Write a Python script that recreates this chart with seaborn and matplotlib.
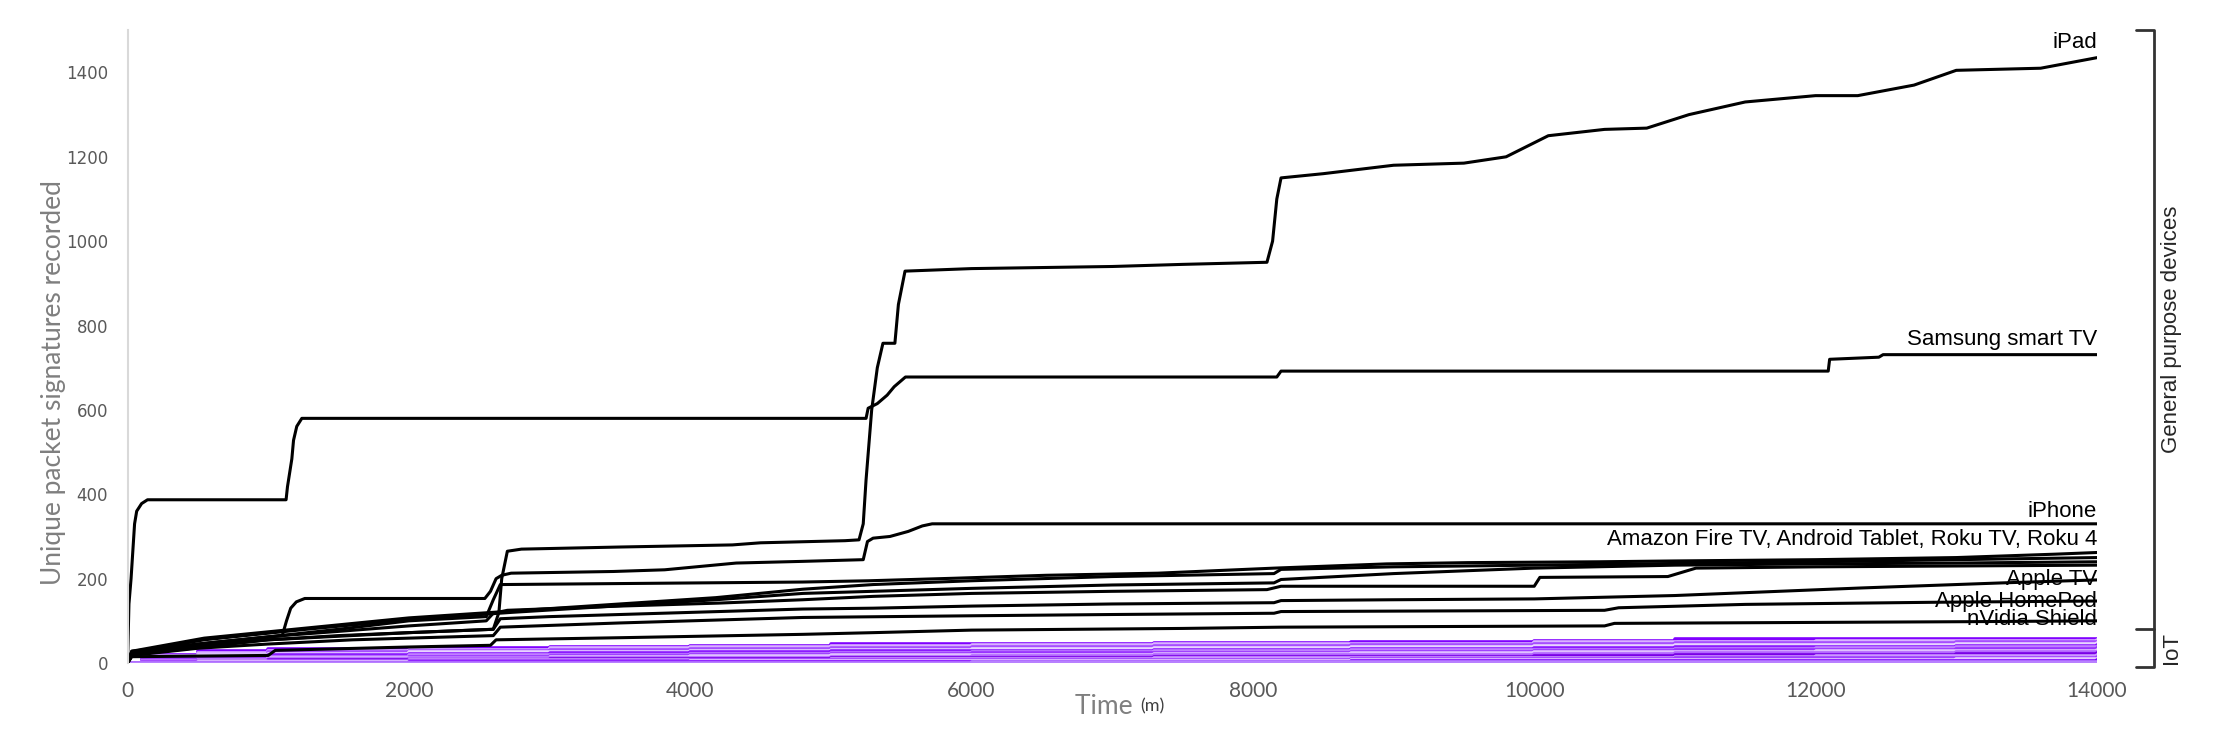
import pandas as pd
import matplotlib
matplotlib.use('Agg')
from matplotlib import pyplot as plt
from matplotlib import transforms
import seaborn as sns

# general purpose devices (black lines): time (m) / unique signatures
ipad_t = [0, 40, 500, 1000, 1500, 2000, 2600, 2640, 2660, 2700, 2800, 3500, 4300, 4500, 5100, 5200,
          5230, 5250, 5290, 5330, 5370, 5455, 5480, 5527, 6000, 7000, 7500, 8100, 8140, 8170, 8200,
          8500, 9000, 9500, 9800, 10100, 10500, 10800, 11100, 11500, 12000, 12300, 12700, 13000,
          13600, 14000]
ipad_v = [0, 22, 40, 55, 65, 72, 80, 120, 200, 265, 270, 275, 280, 285, 290, 292,
          330, 434, 600, 700, 758, 758, 850, 929, 935, 940, 945, 950, 1000, 1100, 1150,
          1160, 1180, 1185, 1200, 1250, 1265, 1268, 1300, 1330, 1345, 1345, 1370, 1405,
          1410, 1435]

samsung_t = [0, 10, 25, 50, 65, 100, 142, 1127, 1137, 1168, 1180, 1203, 1239, 5250, 5265, 5330,
             5400, 5450, 5530, 8170, 8200, 12090, 12100, 12450, 12480, 14000]
samsung_v = [0, 140, 200, 330, 360, 378, 387, 387, 418, 484, 528, 561, 580, 580, 604, 615,
             635, 655, 678, 678, 692, 692, 720, 725, 731, 731]

iphone_t = [0, 40, 500, 1100, 1130, 1160, 1200, 1260, 2540, 2580, 2620, 2660, 2727, 3454, 3818,
            4327, 4800, 5230, 5260, 5300, 5420, 5550, 5650, 5720, 14000]
iphone_v = [0, 25, 45, 65, 100, 130, 145, 153, 153, 170, 200, 208, 213, 217, 221,
            237, 241, 245, 288, 296, 300, 312, 325, 330, 330]

amazon_t = [0, 30, 500, 1000, 1500, 2000, 2550, 2600, 2650, 4800, 5270, 5880, 6530, 7325, 8155,
            8950, 9527, 10458, 11000, 12000, 13000, 13700, 14000]
amazon_v = [0, 28, 45, 62, 80, 100, 110, 150, 186, 192, 195, 201, 208, 213, 225,
            235, 238, 240, 242, 245, 250, 258, 262]

tablet_t = [0, 30, 545, 1273, 2000, 2727, 3454, 4182, 4800, 5300, 6000, 7000, 8150, 8200, 9000,
            10000, 11000, 12000, 13000, 14000]
tablet_v = [0, 28, 59, 83, 107, 123, 139, 155, 175, 186, 195, 205, 212, 222, 228,
            232, 236, 240, 245, 250]

rokutv_t = [0, 30, 545, 1273, 2000, 2727, 3454, 4182, 4800, 5300, 6000, 7000, 8150, 8200, 9000,
            10000, 11000, 12000, 13000, 14000]
rokutv_v = [0, 25, 55, 80, 103, 120, 135, 150, 165, 170, 177, 185, 190, 198, 212,
            225, 232, 235, 237, 240]

roku4_t = [0, 30, 600, 1100, 1500, 2000, 2550, 2600, 2700, 3500, 4200, 4800, 5300, 6000, 7000,
           8100, 8200, 10000, 10040, 10950, 11150, 12000, 13000, 14000]
roku4_v = [0, 22, 48, 65, 75, 88, 100, 118, 125, 135, 142, 150, 158, 165, 170,
           174, 182, 182, 203, 205, 225, 228, 230, 232]

appletv_t = [0, 30, 600, 1000, 2000, 2600, 2650, 3000, 4000, 4800, 5300, 6000, 7000, 8150, 8200,
             9000, 10000, 11000, 12330, 13330, 14000]
appletv_v = [0, 20, 40, 55, 72, 80, 105, 110, 120, 128, 130, 135, 140, 143, 148,
             150, 152, 160, 178, 190, 197]

homepod_t = [0, 30, 500, 1000, 1600, 2600, 2650, 3500, 4500, 4800, 6000, 7000, 8150, 8200, 10500,
             10600, 11500, 12836, 14000]
homepod_v = [0, 18, 35, 45, 55, 65, 85, 95, 105, 108, 112, 115, 118, 122, 125,
             131, 139, 144, 147]

shield_t = [0, 30, 1000, 1050, 2000, 2580, 2620, 3500, 4800, 5300, 6000, 7500, 8200, 10500, 10570,
            13080, 14000]
shield_v = [0, 15, 18, 30, 38, 42, 55, 60, 68, 72, 78, 82, 85, 88, 94,
            98, 100]

# IoT devices (purple lines), sampled on a shared time grid
iot_t = [0, 100, 500, 1000, 2000, 3000, 4000, 5000, 6000, 7300, 8700, 10000, 11000, 12000, 13000, 14000]
iot_01 = [0, 20, 28, 33, 36, 38, 41, 44, 45, 47, 51, 53, 56, 57, 57, 58]
iot_02 = [0, 16, 24, 29, 32, 35, 38, 40, 42, 44, 46, 49, 51, 52, 53, 55]
iot_03 = [0, 14, 20, 25, 28, 31, 33, 36, 38, 40, 43, 45, 47, 48, 49, 51]
iot_04 = [0, 12, 18, 22, 25, 27, 29, 31, 34, 36, 38, 40, 42, 43, 44, 47]
iot_05 = [0, 10, 15, 18, 21, 23, 25, 28, 29, 31, 34, 36, 38, 39, 41, 43]
iot_06 = [0, 8, 12, 15, 18, 20, 22, 24, 26, 28, 31, 32, 34, 35, 37, 39]
iot_07 = [0, 7, 10, 13, 15, 17, 19, 21, 23, 24, 26, 28, 30, 31, 33, 35]
iot_08 = [0, 5, 8, 11, 13, 15, 16, 18, 19, 21, 23, 25, 27, 28, 29, 31]
iot_09 = [0, 4, 7, 9, 11, 12, 13, 15, 16, 18, 19, 21, 23, 24, 25, 27]
iot_10 = [0, 3, 5, 7, 8, 9, 10, 12, 13, 14, 15, 17, 19, 20, 21, 23]
iot_11 = [0, 2, 4, 5, 6, 7, 8, 9, 10, 11, 12, 13, 15, 16, 17, 18]
iot_12 = [0, 2, 3, 4, 4, 5, 6, 6, 7, 8, 9, 10, 11, 12, 13, 14]
iot_13 = [0, 1, 2, 2, 3, 3, 4, 4, 5, 5, 6, 7, 8, 8, 9, 10]
iot_14 = [0, 1, 1, 1, 2, 2, 2, 3, 3, 3, 4, 4, 5, 5, 5, 6]
iot_15 = [0, 0, 1, 1, 1, 1, 1, 1, 2, 2, 2, 2, 2, 3, 3, 3]

gp_labels = ['iPad', 'Samsung smart TV', 'iPhone',
             'Amazon Fire TV, Android Tablet, Roku TV, Roku 4',
             'Apple TV', 'Apple HomePod', 'nVidia Shield']
gp_label_y = [1445, 742, 335, 268, 197, 145, 103]

gp = {
    'iPad': (ipad_t, ipad_v), 'Samsung smart TV': (samsung_t, samsung_v),
    'iPhone': (iphone_t, iphone_v), 'Amazon Fire TV': (amazon_t, amazon_v),
    'Android Tablet': (tablet_t, tablet_v), 'Roku TV': (rokutv_t, rokutv_v),
    'Roku 4': (roku4_t, roku4_v), 'Apple TV': (appletv_t, appletv_v),
    'Apple HomePod': (homepod_t, homepod_v), 'nVidia Shield': (shield_t, shield_v),
}
rows = []
for name, (t, v) in gp.items():
    for a, b in zip(t, v):
        rows.append((name, a, b))
gp_df = pd.DataFrame(rows, columns=['device', 'time', 'signatures'])

iot_lines = [iot_01, iot_02, iot_03, iot_04, iot_05, iot_06, iot_07, iot_08,
             iot_09, iot_10, iot_11, iot_12, iot_13, iot_14, iot_15]
rows = []
for i, vals in enumerate(iot_lines):
    for a, b in zip(iot_t, vals):
        rows.append(('iot%02d' % (i + 1), a, b))
iot_df = pd.DataFrame(rows, columns=['device', 'time', 'signatures'])
purples = ['#8000ff', '#d9b3ff', '#a64dff', '#e8d5ff', '#8c1aff', '#c080ff', '#9933ff',
           '#e0c2ff', '#b366ff', '#7a00e6', '#cc99ff', '#9f3fff', '#e6ccff', '#8000ff', '#b880ff']

sns.set_style('white')
plt.rcParams['font.family'] = ['Liberation Sans', 'DejaVu Sans']

fig = plt.figure(figsize=(22.22, 7.29), dpi=100)
ax = fig.add_axes([0.0574, 0.0905, 0.8863, 0.868])

sns.lineplot(data=iot_df, x='time', y='signatures', hue='device', palette=purples,
             estimator=None, linewidth=2.6, drawstyle='steps-post', legend=False, ax=ax)
sns.lineplot(data=gp_df, x='time', y='signatures', units='device', estimator=None,
             color='black', linewidth=2.2, legend=False, ax=ax)

ax.set_xlim(0, 14000)
ax.set_ylim(0, 1500)
ax.set_xticks(range(0, 14001, 2000))
ax.set_yticks(range(0, 1401, 200))
ax.tick_params(length=0)
ax.tick_params(axis='y', labelsize=12, labelcolor='#595959', pad=14)
ax.tick_params(axis='x', labelsize=15, labelcolor='#595959', pad=13)
for lab in ax.get_xticklabels():
    lab.set_family('Lato')
for lab in ax.get_yticklabels():
    lab.set_family('DejaVu Sans')
for s in ['top', 'right', 'bottom']:
    ax.spines[s].set_visible(False)
ax.spines['left'].set_color('#d9d9d9')
ax.spines['left'].set_linewidth(1.5)
ax.set_xlabel('')
ax.set_ylabel('')

fig.text(0.0243, 0.4746, 'Unique packet signatures recorded', rotation=90, ha='center',
         va='center', fontsize=19, color='#7f7f7f', family='Lato')
ax.text(0.514, -0.068, 'Time ', transform=ax.transAxes, ha='right', va='center',
        fontsize=19, color='#7f7f7f', family='Lato')
ax.text(0.514, -0.068, '(m)', transform=ax.transAxes, ha='left', va='center',
        fontsize=13, color='#404040', family='Lato')

# device labels at the right end of their lines
for lab, y in zip(gp_labels, gp_label_y):
    va = 'bottom' if y > 250 else 'center'
    ax.text(14000, y, lab, ha='right', va=va, fontsize=16, color='black')

# group brackets
tr = transforms.blended_transform_factory(ax.transAxes, ax.transData)
ax.plot([1.0198, 1.0289, 1.0289, 1.0198], [1500, 1500, -10, -10], transform=tr,
        clip_on=False, color='#333333', lw=2)
ax.plot([1.0198, 1.0289], [80, 80], transform=tr, clip_on=False, color='#333333', lw=2)
ax.text(1.038, 790, 'General purpose devices', transform=tr, rotation=90, ha='center',
        va='center', fontsize=16)
ax.text(1.038, 35, 'IoT', transform=tr, rotation=90, ha='center', va='center', fontsize=16)

plt.savefig('out.png', dpi=100)
plt.close('all')
